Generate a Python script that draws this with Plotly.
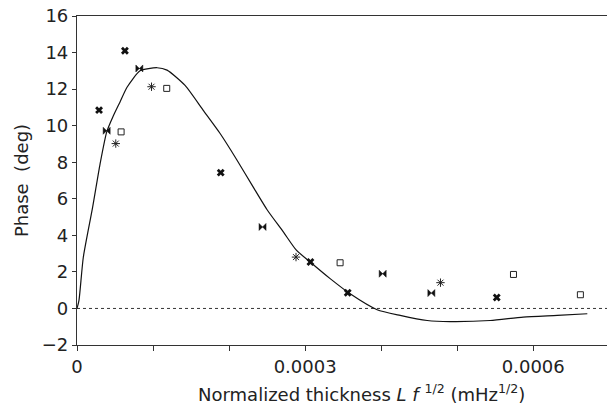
import plotly.graph_objects as go

# Theory curve (x in units of 1e-4 m Hz^1/2)
curve_x = [0.0, 0.026, 0.083, 0.204, 0.303, 0.391, 0.474, 0.566, 0.658, 0.829,
           1.053, 1.184, 1.421, 1.658, 1.882, 2.105, 2.316, 2.5, 2.711, 2.882,
           3.066, 3.329, 3.592, 3.947, 4.25, 4.605, 4.908, 5.434, 5.868, 6.316, 6.711]
curve_y = [0.0, 0.44, 2.8, 5.5, 7.9, 9.66, 10.5, 11.3, 12.1, 13.0,
           13.17, 13.04, 12.2, 10.85, 9.57, 8.11, 6.65, 5.4, 4.2, 3.2,
           2.54, 1.63, 0.80, -0.07, -0.38, -0.66, -0.72, -0.66, -0.47, -0.38, -0.29]

# Measured series
a_x = [0.29, 0.63, 1.89, 3.07, 3.56, 5.52]
a_y = [10.85, 14.1, 7.43, 2.54, 0.86, 0.60]
b_x = [0.39, 0.82, 2.44, 4.02, 4.66]
b_y = [9.72, 13.13, 4.46, 1.90, 0.84]
c_x = [0.51, 0.98, 2.88, 4.78]
c_y = [9.02, 12.13, 2.81, 1.41]
d_x = [0.58, 1.18, 3.46, 5.74, 6.62]
d_y = [9.66, 12.04, 2.50, 1.86, 0.75]

x_ticks = [0, 1, 2, 3, 4, 5, 6]
x_ticklabels = ["0", "", "", "0.0003", "", "", "0.0006"]
y_ticks = [-2, 0, 2, 4, 6, 8, 10, 12, 14, 16]

S = 1e-4
sc = lambda v: [t * S for t in v]

fig = go.Figure()
fig.add_trace(go.Scatter(x=[0, 0.0007], y=[0, 0], mode="lines",
                         line=dict(color="#333", width=1, dash="dot"),
                         showlegend=False, hoverinfo="skip"))
fig.add_trace(go.Scatter(x=sc(curve_x), y=curve_y, mode="lines",
                         line=dict(color="#111", width=1.2, shape="spline", smoothing=0.6),
                         showlegend=False))
fig.add_trace(go.Scatter(x=sc(a_x), y=a_y, mode="markers",
                         marker=dict(symbol="x", size=7, color="#111",
                                     line=dict(width=0)), showlegend=False))
fig.add_trace(go.Scatter(x=sc(b_x), y=b_y, mode="markers",
                         marker=dict(symbol="bowtie", size=7, color="#111",
                                     line=dict(width=0.5, color="#111")), showlegend=False))
fig.add_trace(go.Scatter(x=sc(c_x), y=c_y, mode="markers",
                         marker=dict(symbol="asterisk-open", size=7, color="#222",
                                     line=dict(color="#222", width=1)), showlegend=False))
fig.add_trace(go.Scatter(x=sc(d_x), y=d_y, mode="markers",
                         marker=dict(symbol="square-open", size=6, color="#222",
                                     line=dict(color="#222", width=1)), showlegend=False))

font = "DejaVu Sans, Liberation Sans, Arial, sans-serif"
fig.update_layout(
    width=607, height=409,
    margin=dict(l=77, r=0, t=16, b=64),
    paper_bgcolor="white", plot_bgcolor="white",
    font=dict(family=font, size=18, color="#222"),
    xaxis=dict(range=[0, 0.000697], tickvals=sc(x_ticks), ticktext=x_ticklabels,
               showgrid=False, zeroline=False, showline=True, linecolor="#333",
               linewidth=1.2, mirror=True, ticks="outside", ticklen=5,
               tickcolor="#333", tickfont=dict(size=18)),
    yaxis=dict(range=[-2, 16], tickvals=y_ticks, showgrid=False, zeroline=False,
               showline=True, linecolor="#333", linewidth=1.2, ticks="outside",
               ticklen=4, tickcolor="#333", tickfont=dict(size=18),
               title=dict(text="Phase  (deg)", font=dict(size=18), standoff=8)),
    annotations=[dict(text="Normalized thickness <i>L f</i> <sup>1/2</sup> (mHz<sup>1/2</sup>)",
                      xref="paper", yref="paper", x=0.536, y=-0.146,
                      xanchor="center", yanchor="middle", showarrow=False,
                      font=dict(size=18, family=font, color="#222"))],
)
fig.write_html("out.html")
